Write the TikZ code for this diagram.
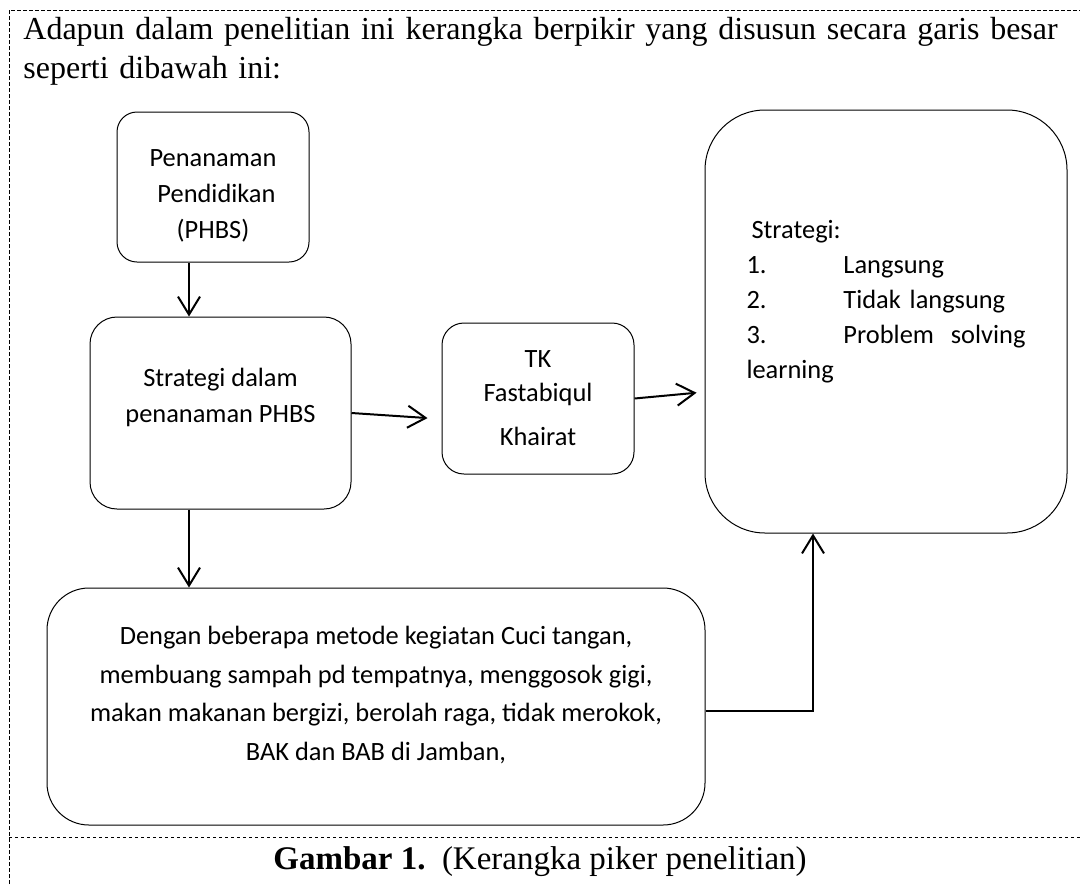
\documentclass[tikz,border=0pt]{standalone}
\usepackage{fontspec}
\setmainfont{Liberation Serif}
\newfontfamily\calibri{Carlito}
\usetikzlibrary{arrows.meta}

\begin{document}
\begin{tikzpicture}[x=0.5pt, y=-0.5pt,
    kotak/.style={draw, line width=0.5pt, align=center, inner sep=0pt, font=\calibri\fontsize{13.2}{17.5}\selectfont},
    panah/.style={line width=1pt, -{Straight Barb[length=9pt, width=11pt]}},
    garis/.style={line width=0.5pt, dash pattern=on 2pt off 1pt}]
    \useasboundingbox (0, 0) rectangle (1080, 884);
    \draw[garis] (9, 884) -- (9, 10) -- (1080, 10);
    \draw[garis, dash pattern=on 1.5pt off 1.5pt] (9, 837) -- (1080, 837);
    \node[anchor=north west, inner sep=0pt, text width=521pt, align=left, font=\fontsize{16}{19.5}\selectfont] (pengantar) at (23, 17) {\makebox[\linewidth][s]{Adapun dalam penelitian ini kerangka berpikir yang disusun secara garis besar}\\seperti dibawah ini:};
    \node[kotak, rounded corners=10pt, minimum width=96pt, minimum height=75pt, font=\calibri\fontsize{13.2}{18}\selectfont] (penanaman) at (213, 187) {\rule{0pt}{17pt}Penanaman\\\hspace*{3.5pt}Pendidikan\\(PHBS)};
    \node[kotak, rounded corners=13.5pt, minimum width=130.5pt, minimum height=96pt, font=\calibri\fontsize{13.2}{18}\selectfont] (strategidalam) at (220.5, 413) {Strategi dalam\\penanaman PHBS\\ \mbox{}};
    \node[kotak, rounded corners=11pt, minimum width=96pt, minimum height=75.5pt, font=\calibri\fontsize{13.2}{17}\selectfont] (tk) at (538, 398.5) {TK\\Fastabiqul\\[5pt]Khairat};
    \node[kotak, rounded corners=30pt, minimum width=181pt, minimum height=211.5pt, text width=139.5pt, align=left] (strategi) at (886, 321.5) {\hspace{2.5pt}Strategi:\\\makebox[48.5pt][l]{1.}Langsung\\\makebox[48.5pt][l]{2.}Tidak langsung\\\makebox[48.5pt][l]{3.}Problem\hfill solving\\learning\\[5pt] \mbox{}};
    \node[kotak, rounded corners=21pt, minimum width=329pt, minimum height=118.5pt, font=\calibri\fontsize{13.2}{19.3}\selectfont] (metode) at (376, 706.5) {Dengan beberapa metode kegiatan Cuci tangan,\\membuang sampah pd tempatnya, menggosok gigi,\\makan makanan bergizi, berolah raga, tidak merokok,\\BAK dan BAB di Jamban,\\[-6pt] \mbox{}};
    \node[font=\fontsize{16.5}{18}\selectfont] (judul) at (540, 862) {\textbf{Gambar 1.}\ \ (Kerangka piker penelitian)};
    \draw[panah] ([xshift=-12pt]penanaman.south) -- ([xshift=-12pt]penanaman.south |- strategidalam.north);
    \draw[panah] ([xshift=-15.75pt]strategidalam.south) -- ([xshift=-15.75pt]strategidalam.south |- metode.north);
    \draw[panah, shorten >=7pt] (strategidalam.east) -- ([yshift=-10.25pt]tk.west);
    \draw[panah, shorten >=4pt] (tk.east) -- ([yshift=-35.25pt]strategi.west);
    \draw[panah] ([yshift=-2.25pt]metode.east) -| ([xshift=-36.5pt]strategi.south);
\end{tikzpicture}
\end{document}
